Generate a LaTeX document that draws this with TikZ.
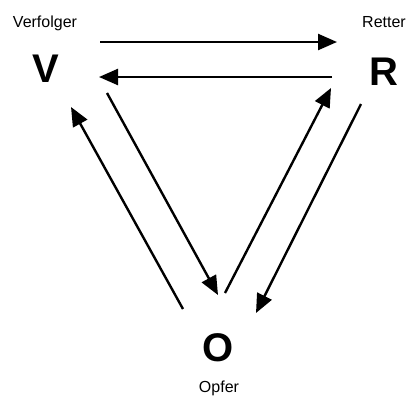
\documentclass[tikz,border=0pt]{standalone}
\usepackage{fontspec}
\setmainfont{Liberation Sans}
\usetikzlibrary{arrows.meta}
\begin{document}
\begin{tikzpicture}[x=1pt,y=-1pt,
  role/.style={font=\fontsize{16}{18}\selectfont, inner sep=0pt},
  letter/.style={font=\fontsize{40}{42}\selectfont\bfseries, inner sep=0pt},
  link/.style={line width=2.4pt, -{Triangle[length=19pt,width=16pt]}}]
  \useasboundingbox (0,0) rectangle (407,397);
  % role labels and letters
  \node[role] (verf) at (45,23) {Verfolger};
  \node[role] (rett) at (384,22) {Retter};
  \node[role] (opf) at (219,388) {Opfer};
  \node[letter] (V) at (46,69) {V};
  \node[letter] (R) at (384,72) {R};
  \node[letter] (O) at (218,348) {O};
  % arrow end points
  \coordinate (vr1) at (100,42);  \coordinate (vr2) at (337,42);
  \coordinate (rv1) at (332,77);  \coordinate (rv2) at (99,77);
  \coordinate (vo1) at (107,93);  \coordinate (vo2) at (218,295);
  \coordinate (ov1) at (183,309); \coordinate (ov2) at (71,107);
  \coordinate (or1) at (225,293); \coordinate (or2) at (331,88);
  \coordinate (ro1) at (361,104); \coordinate (ro2) at (256,313);
  % arrows
  \draw[link] (vr1) -- (vr2);
  \draw[link] (rv1) -- (rv2);
  \draw[link] (vo1) -- (vo2);
  \draw[link] (ov1) -- (ov2);
  \draw[link] (or1) -- (or2);
  \draw[link] (ro1) -- (ro2);
\end{tikzpicture}
\end{document}
